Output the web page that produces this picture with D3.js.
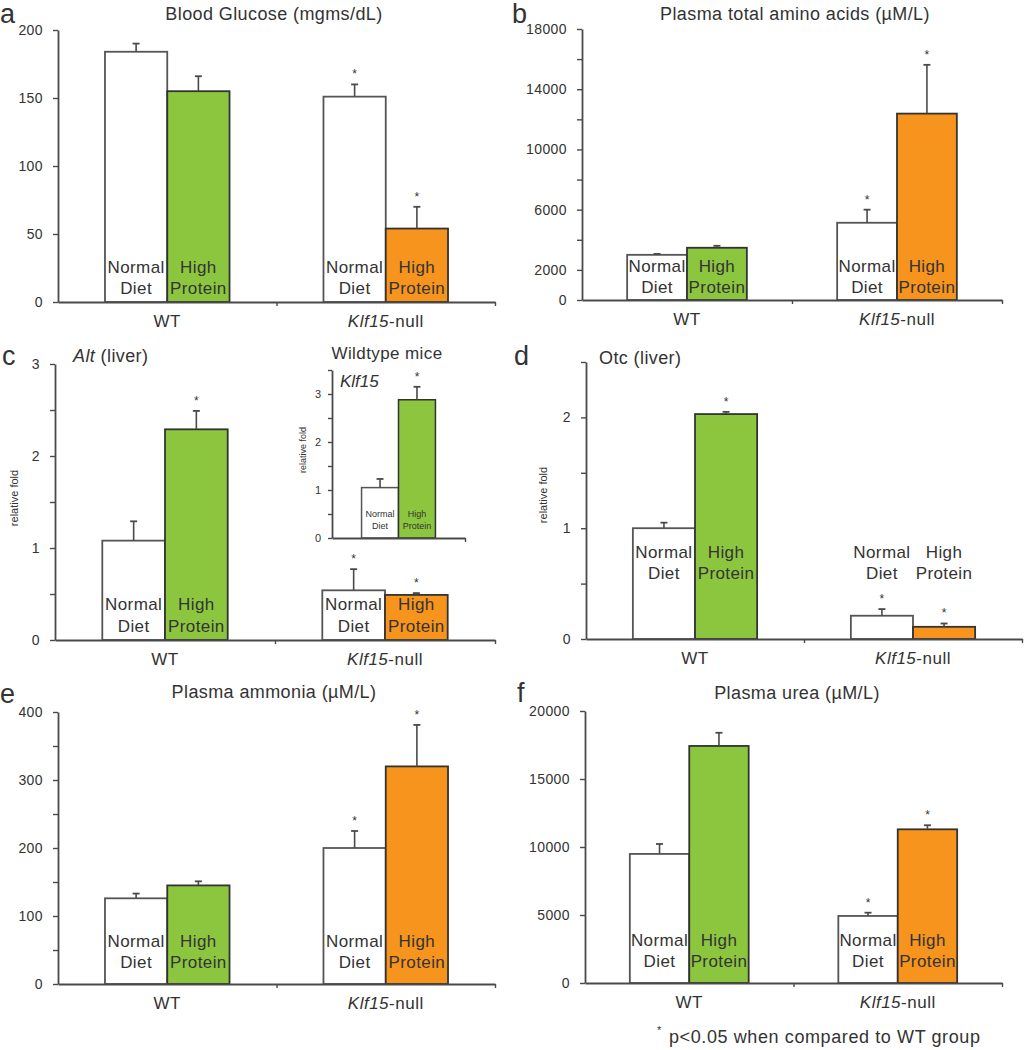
<!DOCTYPE html>
<html>
<head>
<meta charset="utf-8">
<script src="https://cdn.jsdelivr.net/npm/d3@7/dist/d3.min.js"></script>
<style>
  html, body { margin: 0; padding: 0; background: #fff; }
  svg text { font-family: "Liberation Sans", Arial, Helvetica, sans-serif; fill: #333; }
</style>
</head>
<body>
<svg id="chart" width="1024" height="1050"></svg>
<script>
// ---------------- DATA ----------------
const groups = ["WT", "Klf15-null"];
const diets = ["Normal Diet", "High Protein"];
// order: WT-Normal, WT-HighProtein, Klf15null-Normal, Klf15null-HighProtein
const glucoseMean = [184, 155, 151, 54];
const glucoseErr  = [6, 11, 9, 16];
const glucoseSig  = [false, false, true, true];
const glucoseTicks = [0, 50, 100, 150, 200];
const glucoseTickLabels = [0, 50, 100, 150, 200];

const aminoMean = [3000, 3470, 5130, 12380];
const aminoErr  = [60, 130, 870, 3240];
const aminoSig  = [false, false, true, true];
const aminoTicks = [0, 2000, 4000, 6000, 8000, 10000, 12000, 14000, 16000, 18000];
const aminoTickLabels = [0, 2000, 6000, 10000, 14000, 18000];

const altMean = [1.08, 2.29, 0.54, 0.49];
const altErr  = [0.21, 0.20, 0.23, 0.02];
const altSig  = [false, true, true, true];
const altTicks = [0, 0.5, 1, 1.5, 2, 2.5, 3];
const altTickLabels = [0, 1, 2, 3];

const insetGroups = ["WT"];
const klf15Mean = [1.05, 2.88];
const klf15Err  = [0.18, 0.27];
const klf15Sig  = [false, true];
const klf15Ticks = [0, 0.5, 1, 1.5, 2, 2.5, 3, 3.5];
const klf15TickLabels = [0, 1, 2, 3];

const otcMean = [1.0, 2.03, 0.21, 0.11];
const otcErr  = [0.05, 0.02, 0.06, 0.03];
const otcSig  = [false, true, true, true];
const otcTicks = [0, 0.5, 1, 1.5, 2, 2.5];
const otcTickLabels = [0, 1, 2];

const ammoniaMean = [126, 145, 200, 320];
const ammoniaErr  = [7, 6, 25, 61];
const ammoniaSig  = [false, false, true, true];
const ammoniaTicks = [0, 50, 100, 150, 200, 250, 300, 350, 400];
const ammoniaTickLabels = [0, 100, 200, 300, 400];

const ureaMean = [9490, 17430, 4930, 11300];
const ureaErr  = [730, 970, 240, 300];
const ureaSig  = [false, false, true, true];
const ureaTicks = [0, 5000, 10000, 15000, 20000];
const ureaTickLabels = [0, 5000, 10000, 15000, 20000];

const footnote = "p<0.05 when compared to WT group";

// ---------------- STYLE ----------------
const GREEN = "#8cc63f", ORANGE = "#f7941e", AXIS = "#4a4a4a", BARSTROKE = "#333";
const svg = d3.select("#chart");

function panel(cfg) {
  const g = svg.append("g");
  const y = d3.scaleLinear().domain([0, cfg.yMax]).range([cfg.yBot, cfg.yTop]);
  const x0 = d3.scaleBand().domain(cfg.groups).range([cfg.x0, cfg.x1])
    .paddingInner(cfg.pIn).paddingOuter(cfg.pOut);
  const x1 = d3.scaleBand().domain(diets).range([0, x0.bandwidth()]);
  const fs = cfg.small ? 1 : 0;

  const rows = cfg.groups.flatMap((gn, gi) => diets.map((dn, di) => ({
    group: gn, diet: dn, gi, di,
    mean: cfg.mean[gi * 2 + di], err: cfg.err[gi * 2 + di], sig: cfg.sig[gi * 2 + di]
  })));

  // bars
  g.selectAll("rect.bar").data(rows).join("rect")
    .attr("x", d => x0(d.group) + x1(d.diet))
    .attr("y", d => y(d.mean))
    .attr("width", x1.bandwidth())
    .attr("height", d => y(0) - y(d.mean))
    .attr("fill", d => d.di === 0 ? "#fff" : (d.gi === 0 ? GREEN : ORANGE))
    .attr("stroke", d => d.di === 0 ? "#555" : BARSTROKE)
    .attr("stroke-width", cfg.small ? 1.5 : 1.8);

  // error bars
  const cx = d => x0(d.group) + x1(d.diet) + x1.bandwidth() / 2;
  const eb = g.selectAll("g.err").data(rows).join("g");
  eb.append("line").attr("x1", cx).attr("x2", cx)
    .attr("y1", d => y(d.mean)).attr("y2", d => y(d.mean + d.err))
    .attr("stroke", AXIS).attr("stroke-width", 1.6);
  eb.append("line").attr("x1", d => cx(d) - 3.5).attr("x2", d => cx(d) + 3.5)
    .attr("y1", d => y(d.mean + d.err)).attr("y2", d => y(d.mean + d.err))
    .attr("stroke", AXIS).attr("stroke-width", 1.8);
  // significance
  g.selectAll("text.sig").data(rows.filter(d => d.sig)).join("text")
    .attr("x", cx).attr("y", d => y(d.mean + d.err) - 6)
    .attr("text-anchor", "middle").attr("font-size", 12).text("*");

  // bar labels
  const lab = g.selectAll("text.bl").data(rows).join("text")
    .attr("text-anchor", "middle")
    .attr("font-size", cfg.small ? 9 : 17)
    .attr("letter-spacing", cfg.small ? 0 : 0.4);
  lab.each(function (d) {
    const parts = d.diet.split(" ");
    const t = d3.select(this);
    parts.forEach((p, i) => {
      t.append("tspan").attr("x", cx(d)).attr("y", cfg.labelY[i]).text(p);
    });
  });

  // y axis
  const yAxis = d3.axisLeft(y).tickValues(cfg.ticks)
    .tickSize(cfg.small ? 4 : 5).tickSizeOuter(0).tickPadding(cfg.small ? 7 : 10)
    .tickFormat(d => cfg.tickLabels.includes(d) ? String(d) : "");
  const ya = g.append("g").attr("transform", `translate(${cfg.x0},0)`).call(yAxis);
  ya.select(".domain").attr("stroke", AXIS).attr("stroke-width", 1.8);
  ya.selectAll(".tick line").attr("stroke", AXIS).attr("stroke-width", 1.4);
  ya.selectAll(".tick text").attr("font-size", cfg.small ? 11 : 14)
    .attr("letter-spacing", cfg.small ? 0 : 0.4)
    .attr("fill", "#444").attr("font-family", "Liberation Sans, Arial, sans-serif");

  // x axis
  const xe = d3.scaleLinear().domain([0, cfg.groups.length]).range([cfg.x0, cfg.x1]);
  const xAxis = d3.axisBottom(xe).tickValues(d3.range(1, cfg.groups.length + 1))
    .tickSize(4).tickSizeOuter(0).tickFormat("");
  const xa = g.append("g").attr("transform", `translate(0,${cfg.yBot})`).call(xAxis);
  xa.select(".domain").attr("stroke", AXIS).attr("stroke-width", 1.8);
  xa.selectAll(".tick line").attr("stroke", AXIS).attr("stroke-width", 1.4);

  // group labels
  if (!cfg.small) {
    g.selectAll("text.gl").data(cfg.groups).join("text")
      .attr("x", d => x0(d) + x0.bandwidth() / 2).attr("y", cfg.yBot + 25)
      .attr("text-anchor", "middle").attr("font-size", 17).attr("letter-spacing", 0.5)
      .each(function (d) {
        const t = d3.select(this);
        if (d.startsWith("Klf15")) {
          t.append("tspan").attr("font-style", "italic").text("Klf15");
          t.append("tspan").text(d.slice(5));
        } else t.text(d);
      });
  }

  // title
  if (cfg.title) {
    const t = g.append("text").attr("x", cfg.titleX).attr("y", cfg.titleY)
      .attr("text-anchor", cfg.titleAnchor || "middle")
      .attr("font-size", cfg.small ? 17 : 18).attr("letter-spacing", 0.4);
    cfg.title.forEach(p => t.append("tspan").attr("font-style", p.it ? "italic" : "normal").text(p.t));
  }
  // y label
  if (cfg.yLabel) {
    g.append("text").attr("transform", `translate(${cfg.yLabelX},${cfg.yLabelY}) rotate(-90)`)
      .attr("text-anchor", "middle").attr("font-size", cfg.small ? 9 : 11).attr("fill", "#444")
      .text(cfg.yLabel);
  }
  // panel letter
  if (cfg.letter) {
    svg.append("text").attr("x", cfg.letterX).attr("y", cfg.letterY)
      .attr("font-size", 27).attr("fill", "#222").text(cfg.letter);
  }
}

const big = { groups, pIn: 0.43, pOut: 0.215 };

panel({ ...big, letter: "a", letterX: 0, letterY: 23,
  title: [{ t: "Blood Glucose (mgms/dL)" }], titleX: 274, titleY: 20,
  x0: 58, x1: 495, yTop: 30, yBot: 302, yMax: 200,
  mean: glucoseMean, err: glucoseErr, sig: glucoseSig,
  ticks: glucoseTicks, tickLabels: glucoseTickLabels, labelY: [273, 294] });

panel({ ...big, letter: "b", letterX: 512, letterY: 23,
  title: [{ t: "Plasma total amino acids (µM/L)" }], titleX: 795, titleY: 20,
  x0: 582, x1: 1002, yTop: 29, yBot: 300, yMax: 18000,
  mean: aminoMean, err: aminoErr, sig: aminoSig,
  ticks: aminoTicks, tickLabels: aminoTickLabels, labelY: [272, 293] });

panel({ ...big, letter: "c", letterX: 2, letterY: 365,
  title: [{ t: "Alt", it: true }, { t: " (liver)" }], titleX: 73, titleY: 362, titleAnchor: "start",
  x0: 55, x1: 495, yTop: 364, yBot: 640, yMax: 3,
  mean: altMean, err: altErr, sig: altSig,
  ticks: altTicks, tickLabels: altTickLabels, labelY: [610, 632],
  yLabel: "relative fold", yLabelX: 18, yLabelY: 498 });

panel({ groups: insetGroups, pIn: 0, pOut: 0.4, small: true,
  title: [{ t: "Wildtype mice" }], titleX: 387, titleY: 359,
  x0: 332, x1: 465, yTop: 370, yBot: 538, yMax: 3.5,
  mean: klf15Mean, err: klf15Err, sig: klf15Sig,
  ticks: klf15Ticks, tickLabels: klf15TickLabels, labelY: [517, 529],
  yLabel: "relative fold", yLabelX: 306, yLabelY: 450 });
svg.append("text").attr("x", 340).attr("y", 387).attr("font-size", 17)
  .attr("font-style", "italic").text("Klf15");

panel({ ...big, letter: "d", letterX: 514, letterY: 365,
  title: [{ t: "Otc (liver)" }], titleX: 599, titleY: 364, titleAnchor: "start",
  x0: 586, x1: 1022, yTop: 362, yBot: 639, yMax: 2.5,
  mean: otcMean, err: otcErr, sig: otcSig,
  ticks: otcTicks, tickLabels: otcTickLabels, labelY: [558, 579],
  yLabel: "relative fold", yLabelX: 547, yLabelY: 495 });

panel({ ...big, letter: "e", letterX: 0, letterY: 703,
  title: [{ t: "Plasma ammonia (µM/L)" }], titleX: 274, titleY: 698,
  x0: 58, x1: 495, yTop: 712, yBot: 984, yMax: 400,
  mean: ammoniaMean, err: ammoniaErr, sig: ammoniaSig,
  ticks: ammoniaTicks, tickLabels: ammoniaTickLabels, labelY: [947, 968] });

panel({ ...big, letter: "f", letterX: 517, letterY: 702,
  title: [{ t: "Plasma urea (µM/L)" }], titleX: 797, titleY: 699,
  x0: 585, x1: 1002, yTop: 711, yBot: 983, yMax: 20000,
  mean: ureaMean, err: ureaErr, sig: ureaSig,
  ticks: ureaTicks, tickLabels: ureaTickLabels, labelY: [946, 967] });

// footnote
svg.append("text").attr("x", 657).attr("y", 1034).attr("font-size", 11).text("*");
svg.append("text").attr("x", 669).attr("y", 1043).attr("font-size", 18)
  .attr("letter-spacing", 0.6).text(footnote);
</script>
</body>
</html>
